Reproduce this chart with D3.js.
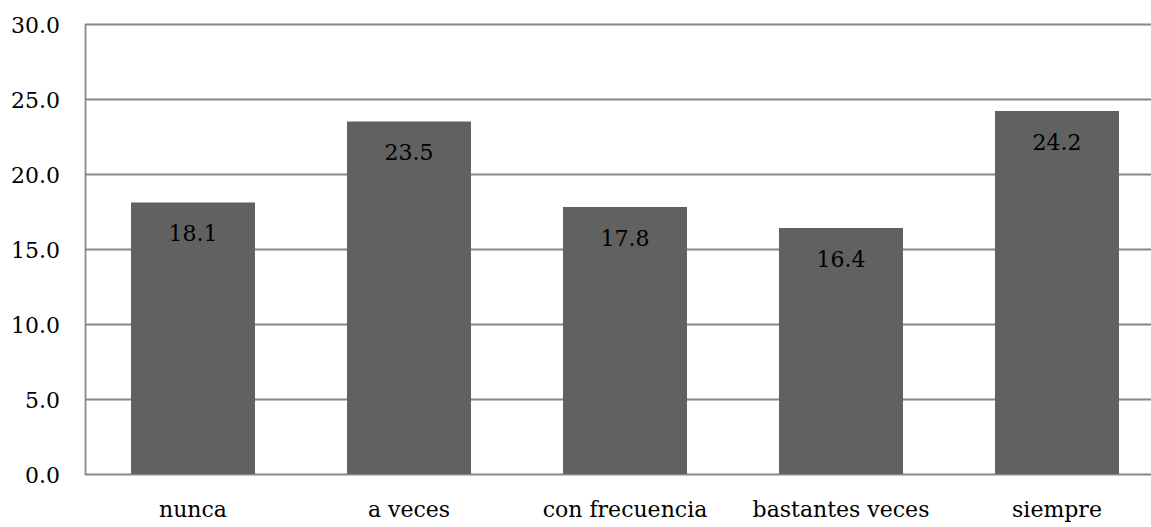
<!DOCTYPE html>
<html>
<head>
<meta charset="utf-8">
<script src="https://cdn.jsdelivr.net/npm/d3@7"></script>
<style>
  html, body { margin: 0; padding: 0; background: #fff; }
  svg { display: block; }
  text { font-family: "DejaVu Serif", "Liberation Serif", serif; fill: #000; }
</style>
</head>
<body>
<svg id="chart" width="1151" height="527"></svg>
<script>
const categories = ["nunca", "a veces", "con frecuencia", "bastantes veces", "siempre"];
const values = [18.1, 23.5, 17.8, 16.4, 24.2];
const yTicks = [0, 5, 10, 15, 20, 25, 30];

const svg = d3.select("#chart");
const plotLeft = 85, plotRight = 1165, plotTop = 24, plotBottom = 474;
const fontSize = "22px";

const x = d3.scaleBand()
  .domain(categories)
  .range([plotLeft, plotRight])
  .paddingInner(0.426)
  .paddingOuter(0.213);

const y = d3.scaleLinear().domain([0, 30]).range([plotBottom, plotTop]);

// horizontal gridlines
svg.append("g")
  .selectAll("line")
  .data(yTicks)
  .join("line")
  .attr("x1", plotLeft)
  .attr("x2", 1151)
  .attr("y1", d => Math.round(y(d)) + 0.5)
  .attr("y2", d => Math.round(y(d)) + 0.5)
  .attr("stroke", "#888")
  .attr("stroke-width", 1.8);

// y axis labels
const yAxis = d3.axisLeft(y).tickValues(yTicks).tickFormat(d3.format(".1f")).tickSize(0).tickPadding(25);
const gy = svg.append("g").attr("transform", `translate(${plotLeft},0)`).call(yAxis);
gy.select(".domain").remove();
gy.attr("font-family", null).attr("font-size", null);
gy.selectAll("text").style("font-size", fontSize).attr("dy", "0.38em");

// vertical axis line
svg.append("line")
  .attr("x1", plotLeft + 0.5).attr("x2", plotLeft + 0.5)
  .attr("y1", plotTop).attr("y2", plotBottom + 1)
  .attr("stroke", "#888").attr("stroke-width", 1.8);

// bars
svg.append("g")
  .selectAll("rect")
  .data(values)
  .join("rect")
  .attr("x", (d, i) => x(categories[i]))
  .attr("width", x.bandwidth())
  .attr("y", d => y(d))
  .attr("height", d => y(0) - y(d))
  .attr("fill", "#616161");

// value labels inside bars
svg.append("g")
  .selectAll("text")
  .data(values)
  .join("text")
  .attr("x", (d, i) => x(categories[i]) + x.bandwidth() / 2)
  .attr("y", d => y(d) + 38.5)
  .attr("text-anchor", "middle")
  .style("font-size", fontSize)
  .text(d => d3.format(".1f")(d));

// category labels
const gx = svg.append("g");
gx.selectAll("text")
  .data(categories)
  .join("text")
  .attr("x", d => x(d) + x.bandwidth() / 2)
  .attr("y", 517)
  .attr("text-anchor", "middle")
  .style("font-size", fontSize)
  .text(d => d);
</script>
</body>
</html>
